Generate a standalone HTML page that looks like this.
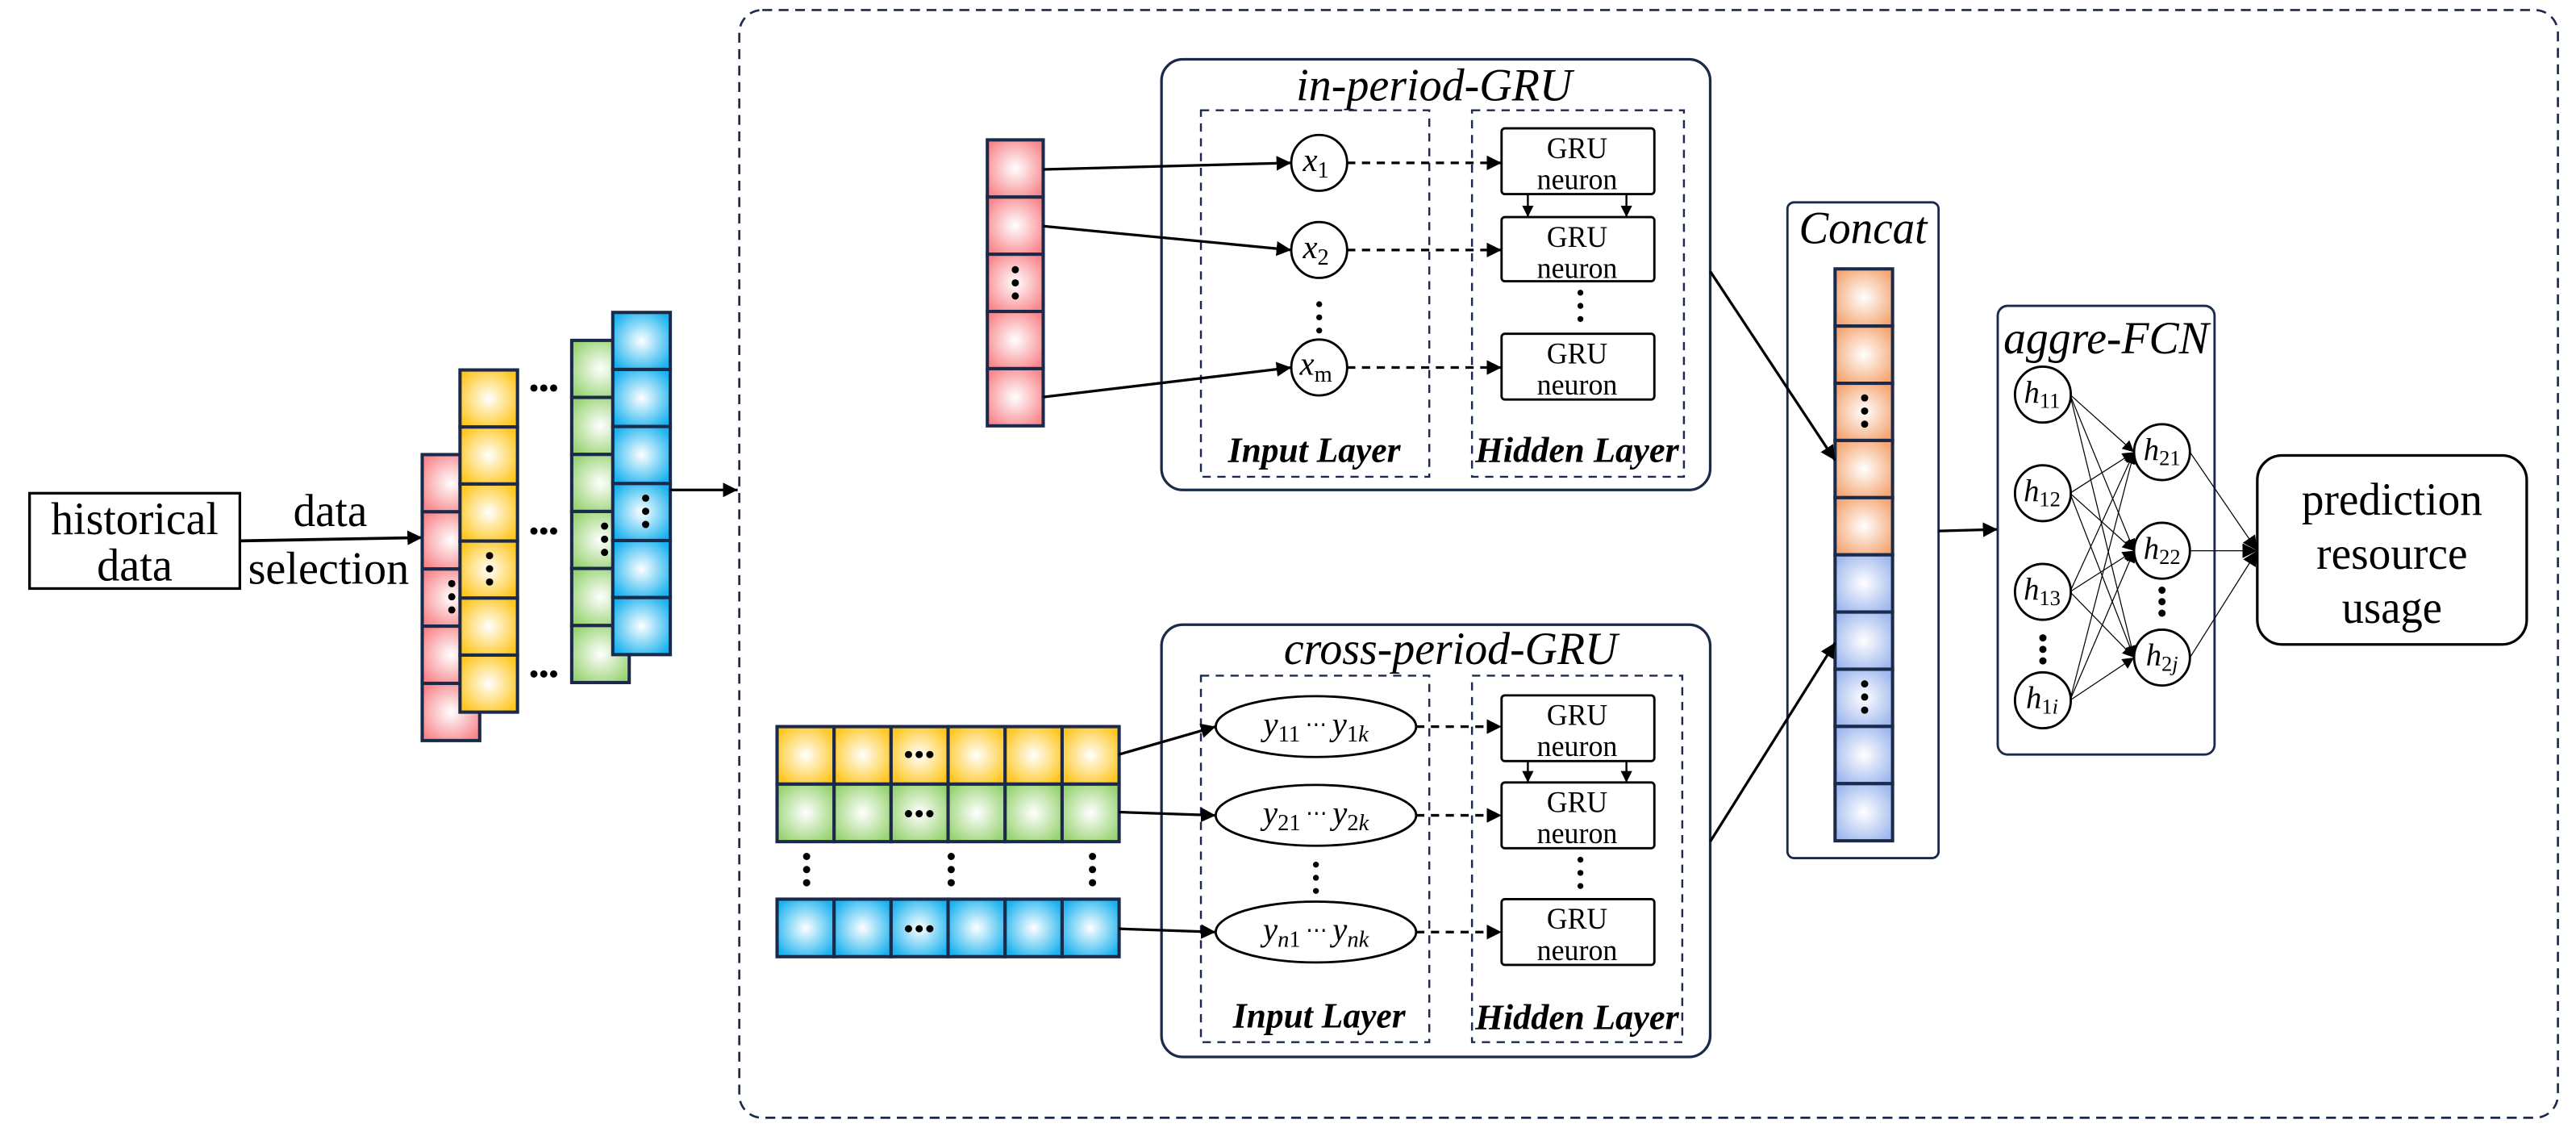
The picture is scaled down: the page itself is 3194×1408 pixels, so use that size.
<!DOCTYPE html>
<html><head><meta charset="utf-8"><style>
html,body{margin:0;padding:0;background:#fff;width:3194px;height:1408px;overflow:hidden}
svg{display:block}
text{font-family:"Liberation Serif","Times New Roman","DejaVu Serif",serif;fill:#000}
</style></head><body>
<svg width="3194" height="1408" viewBox="0 0 1568 691" xmlns="http://www.w3.org/2000/svg">
<defs>
<radialGradient id="gr" cx="50%" cy="50%" r="60%"><stop offset="0" stop-color="#fff"/><stop offset="1" stop-color="#f8878c"/></radialGradient>
<radialGradient id="gy" cx="50%" cy="50%" r="60%"><stop offset="0" stop-color="#fff"/><stop offset="1" stop-color="#ffc61e"/></radialGradient>
<radialGradient id="gg" cx="50%" cy="50%" r="60%"><stop offset="0" stop-color="#fff"/><stop offset="1" stop-color="#98d372"/></radialGradient>
<radialGradient id="gb" cx="50%" cy="50%" r="60%"><stop offset="0" stop-color="#fff"/><stop offset="1" stop-color="#1ab2ef"/></radialGradient>
<radialGradient id="go" cx="50%" cy="50%" r="60%"><stop offset="0" stop-color="#fff"/><stop offset="1" stop-color="#f4a673"/></radialGradient>
<radialGradient id="gl" cx="50%" cy="50%" r="60%"><stop offset="0" stop-color="#fff"/><stop offset="1" stop-color="#9fb8ee"/></radialGradient>
<marker id="a" viewBox="0 0 10 10" refX="10" refY="5" markerWidth="9" markerHeight="9" markerUnits="userSpaceOnUse" orient="auto"><path d="M0,0L10,5L0,10z" fill="#000"/></marker>
<marker id="as" viewBox="0 0 10 10" refX="10" refY="5" markerWidth="7" markerHeight="7" markerUnits="userSpaceOnUse" orient="auto"><path d="M0,0L10,5L0,10z" fill="#000"/></marker>
</defs>

<rect x="450" y="6" width="1107" height="674" rx="14" fill="none" stroke="#1b2a4a" stroke-width="1.3" stroke-dasharray="6,4"/>

<rect x="18" y="300" width="128" height="58" fill="#fff" stroke="#000" stroke-width="1.6"/>
<text x="82" y="325" font-size="28" text-anchor="middle" textLength="102" lengthAdjust="spacingAndGlyphs">historical</text>
<text x="82" y="353" font-size="28" text-anchor="middle" textLength="46" lengthAdjust="spacingAndGlyphs">data</text>
<line x1="146" y1="329" x2="257" y2="327" stroke="#000" stroke-width="1.8" marker-end="url(#a)"/>
<text x="201" y="320" font-size="28" text-anchor="middle" textLength="45" lengthAdjust="spacingAndGlyphs">data</text>
<text x="200" y="355" font-size="28" text-anchor="middle" textLength="98" lengthAdjust="spacingAndGlyphs">selection</text>

<g stroke="#1b2a4a" stroke-width="2">
<g fill="url(#gr)">
<rect x="257" y="276.5" width="35" height="34.8"/><rect x="257" y="311.3" width="35" height="34.8"/><rect x="257" y="346.1" width="35" height="34.8"/><rect x="257" y="380.9" width="35" height="34.8"/><rect x="257" y="415.7" width="35" height="34.8"/>
</g>
<g fill="url(#gy)">
<rect x="280" y="225" width="35" height="34.7"/><rect x="280" y="259.7" width="35" height="34.7"/><rect x="280" y="294.4" width="35" height="34.7"/><rect x="280" y="329.1" width="35" height="34.7"/><rect x="280" y="363.8" width="35" height="34.7"/><rect x="280" y="398.5" width="35" height="34.7"/>
</g>
<g fill="url(#gg)">
<rect x="348" y="207" width="35" height="34.7"/><rect x="348" y="241.7" width="35" height="34.7"/><rect x="348" y="276.4" width="35" height="34.7"/><rect x="348" y="311.1" width="35" height="34.7"/><rect x="348" y="345.8" width="35" height="34.7"/><rect x="348" y="380.5" width="35" height="34.7"/>
</g>
<g fill="url(#gb)">
<rect x="373" y="190" width="35" height="34.7"/><rect x="373" y="224.7" width="35" height="34.7"/><rect x="373" y="259.4" width="35" height="34.7"/><rect x="373" y="294.1" width="35" height="34.7"/><rect x="373" y="328.8" width="35" height="34.7"/><rect x="373" y="363.5" width="35" height="34.7"/>
</g>
<g fill="url(#gr)">
<rect x="601" y="85" width="34" height="34.8"/><rect x="601" y="119.8" width="34" height="34.8"/><rect x="601" y="154.6" width="34" height="34.8"/><rect x="601" y="189.4" width="34" height="34.8"/><rect x="601" y="224.2" width="34" height="34.8"/>
</g>
<g fill="url(#gy)">
<rect x="473" y="442" width="34.7" height="35"/><rect x="507.7" y="442" width="34.7" height="35"/><rect x="542.4" y="442" width="34.7" height="35"/><rect x="577.1" y="442" width="34.7" height="35"/><rect x="611.8" y="442" width="34.7" height="35"/><rect x="646.5" y="442" width="34.7" height="35"/>
</g>
<g fill="url(#gg)">
<rect x="473" y="477" width="34.7" height="35"/><rect x="507.7" y="477" width="34.7" height="35"/><rect x="542.4" y="477" width="34.7" height="35"/><rect x="577.1" y="477" width="34.7" height="35"/><rect x="611.8" y="477" width="34.7" height="35"/><rect x="646.5" y="477" width="34.7" height="35"/>
</g>
<g fill="url(#gb)">
<rect x="473" y="547" width="34.7" height="35"/><rect x="507.7" y="547" width="34.7" height="35"/><rect x="542.4" y="547" width="34.7" height="35"/><rect x="577.1" y="547" width="34.7" height="35"/><rect x="611.8" y="547" width="34.7" height="35"/><rect x="646.5" y="547" width="34.7" height="35"/>
</g>
</g>

<g fill="#000">
<circle cx="275" cy="355" r="2.2"/><circle cx="275" cy="363" r="2.2"/><circle cx="275" cy="371" r="2.2"/>
<circle cx="298" cy="338" r="2.2"/><circle cx="298" cy="346" r="2.2"/><circle cx="298" cy="354" r="2.2"/>
<circle cx="368" cy="320" r="2.2"/><circle cx="368" cy="328" r="2.2"/><circle cx="368" cy="336" r="2.2"/>
<circle cx="393" cy="303" r="2.2"/><circle cx="393" cy="311" r="2.2"/><circle cx="393" cy="319" r="2.2"/>
<circle cx="325" cy="236" r="2.2"/><circle cx="331" cy="236" r="2.2"/><circle cx="337" cy="236" r="2.2"/>
<circle cx="325" cy="323" r="2.2"/><circle cx="331" cy="323" r="2.2"/><circle cx="337" cy="323" r="2.2"/>
<circle cx="325" cy="410" r="2.2"/><circle cx="331" cy="410" r="2.2"/><circle cx="337" cy="410" r="2.2"/>
<circle cx="618" cy="164" r="2.2"/><circle cx="618" cy="172" r="2.2"/><circle cx="618" cy="180" r="2.2"/>
<circle cx="553" cy="459" r="2.2"/><circle cx="559.5" cy="459" r="2.2"/><circle cx="566" cy="459" r="2.2"/>
<circle cx="553" cy="495" r="2.2"/><circle cx="559.5" cy="495" r="2.2"/><circle cx="566" cy="495" r="2.2"/>
<circle cx="553" cy="565" r="2.2"/><circle cx="559.5" cy="565" r="2.2"/><circle cx="566" cy="565" r="2.2"/>
<circle cx="491" cy="521" r="2.2"/><circle cx="491" cy="529" r="2.2"/><circle cx="491" cy="537" r="2.2"/>
<circle cx="579" cy="521" r="2.2"/><circle cx="579" cy="529" r="2.2"/><circle cx="579" cy="537" r="2.2"/>
<circle cx="665" cy="521" r="2.2"/><circle cx="665" cy="529" r="2.2"/><circle cx="665" cy="537" r="2.2"/>
</g>

<line x1="408" y1="298" x2="449" y2="298" stroke="#000" stroke-width="1.6" marker-end="url(#a)"/>

<rect x="707" y="36" width="334" height="262" rx="13" fill="none" stroke="#1b2a4a" stroke-width="1.6"/>
<text x="873" y="61" font-size="28" font-style="italic" text-anchor="middle" textLength="168" lengthAdjust="spacingAndGlyphs">in-period-GRU</text>
<rect x="731" y="67" width="139" height="223" fill="none" stroke="#1b2a4a" stroke-width="1.2" stroke-dasharray="5,4"/>
<rect x="896" y="67" width="129" height="223" fill="none" stroke="#1b2a4a" stroke-width="1.2" stroke-dasharray="5,4"/>
<text x="800" y="281" font-size="22" font-style="italic" font-weight="bold" text-anchor="middle" textLength="105" lengthAdjust="spacingAndGlyphs">Input Layer</text>
<text x="960" y="281" font-size="22" font-style="italic" font-weight="bold" text-anchor="middle" textLength="124" lengthAdjust="spacingAndGlyphs">Hidden Layer</text>
<g fill="#fff" stroke="#000" stroke-width="1.4">
<circle cx="803" cy="99" r="17"/><circle cx="803" cy="152" r="17"/><circle cx="803" cy="223.5" r="17"/>
<rect x="914" y="78" width="93" height="40" rx="2"/><rect x="914" y="132" width="93" height="39" rx="2"/><rect x="914" y="203" width="93" height="40" rx="2"/>
</g>
<g font-style="italic" font-size="20" text-anchor="middle">
<text x="801" y="104">x<tspan font-size="14" font-style="normal" dy="4">1</tspan></text>
<text x="801" y="157">x<tspan font-size="14" font-style="normal" dy="4">2</tspan></text>
<text x="801" y="228">x<tspan font-size="14" font-style="normal" dy="4">m</tspan></text>
</g>
<g fill="#000"><circle cx="803" cy="185" r="1.8"/><circle cx="803" cy="193" r="1.8"/><circle cx="803" cy="201" r="1.8"/>
<circle cx="962" cy="178" r="1.8"/><circle cx="962" cy="186" r="1.8"/><circle cx="962" cy="194" r="1.8"/></g>
<g font-size="18" text-anchor="middle">
<text x="960" y="96" textLength="37" lengthAdjust="spacingAndGlyphs">GRU</text><text x="960" y="115" textLength="49" lengthAdjust="spacingAndGlyphs">neuron</text>
<text x="960" y="150" textLength="37" lengthAdjust="spacingAndGlyphs">GRU</text><text x="960" y="169" textLength="49" lengthAdjust="spacingAndGlyphs">neuron</text>
<text x="960" y="221" textLength="37" lengthAdjust="spacingAndGlyphs">GRU</text><text x="960" y="240" textLength="49" lengthAdjust="spacingAndGlyphs">neuron</text>
</g>
<g stroke="#000" stroke-width="1.6" fill="none">
<line x1="635" y1="103" x2="786" y2="99" marker-end="url(#a)"/>
<line x1="635" y1="137.5" x2="786" y2="152" marker-end="url(#a)"/>
<line x1="635" y1="241.5" x2="786" y2="223.5" marker-end="url(#a)"/>
<g stroke-dasharray="5,4"><line x1="820" y1="99" x2="914" y2="99" marker-end="url(#a)"/><line x1="820" y1="152" x2="914" y2="152" marker-end="url(#a)"/><line x1="820" y1="223.5" x2="914" y2="223.5" marker-end="url(#a)"/></g>
<line x1="930" y1="118" x2="930" y2="132" stroke-width="1.2" marker-end="url(#as)"/>
<line x1="990" y1="118" x2="990" y2="132" stroke-width="1.2" marker-end="url(#as)"/>
</g>

<rect x="707" y="380" width="334" height="263" rx="13" fill="none" stroke="#1b2a4a" stroke-width="1.6"/>
<text x="883" y="404" font-size="28" font-style="italic" text-anchor="middle" textLength="203" lengthAdjust="spacingAndGlyphs">cross-period-GRU</text>
<rect x="731" y="411" width="139" height="223" fill="none" stroke="#1b2a4a" stroke-width="1.2" stroke-dasharray="5,4"/>
<rect x="896" y="411" width="128" height="223" fill="none" stroke="#1b2a4a" stroke-width="1.2" stroke-dasharray="5,4"/>
<text x="803" y="625" font-size="22" font-style="italic" font-weight="bold" text-anchor="middle" textLength="105" lengthAdjust="spacingAndGlyphs">Input Layer</text>
<text x="960" y="626" font-size="22" font-style="italic" font-weight="bold" text-anchor="middle" textLength="124" lengthAdjust="spacingAndGlyphs">Hidden Layer</text>
<g fill="#fff" stroke="#000" stroke-width="1.4">
<ellipse cx="801" cy="442" rx="61" ry="18.5"/><ellipse cx="801" cy="496" rx="61" ry="18.5"/><ellipse cx="801" cy="567" rx="61" ry="18.5"/>
<rect x="914" y="423" width="93" height="40" rx="2"/><rect x="914" y="476" width="93" height="40" rx="2"/><rect x="914" y="547" width="93" height="40" rx="2"/>
</g>
<g font-style="italic" font-size="20" text-anchor="middle">
<text x="801" y="447">y<tspan font-size="14" font-style="normal" dy="4">11</tspan><tspan dy="-6" font-size="13" font-style="normal"> ⋯ </tspan><tspan dy="2">y</tspan><tspan font-size="14" dy="4"><tspan font-style="normal">1</tspan>k</tspan></text>
<text x="801" y="501">y<tspan font-size="14" font-style="normal" dy="4">21</tspan><tspan dy="-6" font-size="13" font-style="normal"> ⋯ </tspan><tspan dy="2">y</tspan><tspan font-size="14" dy="4"><tspan font-style="normal">2</tspan>k</tspan></text>
<text x="801" y="572">y<tspan font-size="14" dy="4">n<tspan font-style="normal">1</tspan></tspan><tspan dy="-6" font-size="13" font-style="normal"> ⋯ </tspan><tspan dy="2">y</tspan><tspan font-size="14" dy="4">nk</tspan></text>
</g>
<g fill="#000"><circle cx="801" cy="526" r="1.8"/><circle cx="801" cy="534" r="1.8"/><circle cx="801" cy="542" r="1.8"/>
<circle cx="962" cy="523" r="1.8"/><circle cx="962" cy="531" r="1.8"/><circle cx="962" cy="539" r="1.8"/></g>
<g font-size="18" text-anchor="middle">
<text x="960" y="441" textLength="37" lengthAdjust="spacingAndGlyphs">GRU</text><text x="960" y="460" textLength="49" lengthAdjust="spacingAndGlyphs">neuron</text>
<text x="960" y="494" textLength="37" lengthAdjust="spacingAndGlyphs">GRU</text><text x="960" y="513" textLength="49" lengthAdjust="spacingAndGlyphs">neuron</text>
<text x="960" y="565" textLength="37" lengthAdjust="spacingAndGlyphs">GRU</text><text x="960" y="584" textLength="49" lengthAdjust="spacingAndGlyphs">neuron</text>
</g>
<g stroke="#000" stroke-width="1.6" fill="none">
<line x1="681" y1="459" x2="740" y2="442" marker-end="url(#a)"/>
<line x1="681" y1="494" x2="740" y2="496" marker-end="url(#a)"/>
<line x1="681" y1="565" x2="740" y2="567" marker-end="url(#a)"/>
<g stroke-dasharray="5,4"><line x1="862" y1="442" x2="914" y2="442" marker-end="url(#a)"/><line x1="862" y1="496" x2="914" y2="496" marker-end="url(#a)"/><line x1="862" y1="567" x2="914" y2="567" marker-end="url(#a)"/></g>
<line x1="930" y1="463" x2="930" y2="476" stroke-width="1.2" marker-end="url(#as)"/>
<line x1="990" y1="463" x2="990" y2="476" stroke-width="1.2" marker-end="url(#as)"/>
</g>

<rect x="1088" y="123" width="92" height="399" rx="4" fill="none" stroke="#1b2a4a" stroke-width="1.4"/>
<text x="1134" y="148" font-size="28" font-style="italic" text-anchor="middle" textLength="78" lengthAdjust="spacingAndGlyphs">Concat</text>
<g stroke="#1b2a4a" stroke-width="2">
<g fill="url(#go)">
<rect x="1117" y="163.5" width="35" height="34.8"/><rect x="1117" y="198.3" width="35" height="34.8"/><rect x="1117" y="233.1" width="35" height="34.8"/><rect x="1117" y="267.9" width="35" height="34.8"/><rect x="1117" y="302.7" width="35" height="34.8"/>
</g>
<g fill="url(#gl)">
<rect x="1117" y="337.5" width="35" height="34.8"/><rect x="1117" y="372.3" width="35" height="34.8"/><rect x="1117" y="407.1" width="35" height="34.8"/><rect x="1117" y="441.9" width="35" height="34.8"/><rect x="1117" y="476.7" width="35" height="34.8"/>
</g></g>
<g fill="#000"><circle cx="1135" cy="242" r="2.2"/><circle cx="1135" cy="250" r="2.2"/><circle cx="1135" cy="258" r="2.2"/>
<circle cx="1135" cy="416" r="2.2"/><circle cx="1135" cy="424" r="2.2"/><circle cx="1135" cy="432" r="2.2"/></g>
<g stroke="#000" stroke-width="1.6">
<line x1="1041" y1="165" x2="1117" y2="280" marker-end="url(#a)"/>
<line x1="1041" y1="512" x2="1117" y2="391" marker-end="url(#a)"/>
<line x1="1180" y1="323" x2="1216" y2="322" marker-end="url(#a)"/>
</g>

<rect x="1216" y="186" width="132" height="273" rx="6" fill="none" stroke="#1b2a4a" stroke-width="1.4"/>
<text x="1282" y="215" font-size="28" font-style="italic" text-anchor="middle" textLength="125" lengthAdjust="spacingAndGlyphs">aggre-FCN</text>
<g stroke="#000" stroke-width="0.6" fill="none">
<line x1="1260" y1="240" x2="1299" y2="275" marker-end="url(#as)"/><line x1="1260" y1="240" x2="1299" y2="335" marker-end="url(#as)"/><line x1="1260" y1="240" x2="1299" y2="400" marker-end="url(#as)"/>
<line x1="1260" y1="300" x2="1299" y2="275" marker-end="url(#as)"/><line x1="1260" y1="300" x2="1299" y2="335" marker-end="url(#as)"/><line x1="1260" y1="300" x2="1299" y2="400" marker-end="url(#as)"/>
<line x1="1260" y1="360" x2="1299" y2="275" marker-end="url(#as)"/><line x1="1260" y1="360" x2="1299" y2="335" marker-end="url(#as)"/><line x1="1260" y1="360" x2="1299" y2="400" marker-end="url(#as)"/>
<line x1="1260" y1="426" x2="1299" y2="275" marker-end="url(#as)"/><line x1="1260" y1="426" x2="1299" y2="335" marker-end="url(#as)"/><line x1="1260" y1="426" x2="1299" y2="400" marker-end="url(#as)"/>
<line x1="1333" y1="275" x2="1374" y2="335" marker-end="url(#a)"/><line x1="1333" y1="335" x2="1374" y2="335" marker-end="url(#a)"/><line x1="1333" y1="400" x2="1374" y2="335" marker-end="url(#a)"/>
</g>
<g fill="#fff" stroke="#000" stroke-width="1.4">
<circle cx="1243.5" cy="240" r="17"/><circle cx="1243.5" cy="300" r="17"/><circle cx="1243.5" cy="360" r="17"/><circle cx="1243.5" cy="426" r="17"/>
<circle cx="1316" cy="275" r="17"/><circle cx="1316" cy="335" r="17"/><circle cx="1316" cy="400" r="17"/>
</g>
<g font-size="19" font-style="italic" text-anchor="middle">
<text x="1243" y="245">h<tspan font-size="13" font-style="normal" dy="3">11</tspan></text>
<text x="1243" y="305">h<tspan font-size="13" font-style="normal" dy="3">12</tspan></text>
<text x="1243" y="365">h<tspan font-size="13" font-style="normal" dy="3">13</tspan></text>
<text x="1243" y="431">h<tspan font-size="13" dy="3"><tspan font-style="normal">1</tspan>i</tspan></text>
<text x="1316" y="280">h<tspan font-size="13" font-style="normal" dy="3">21</tspan></text>
<text x="1316" y="340">h<tspan font-size="13" font-style="normal" dy="3">22</tspan></text>
<text x="1316" y="405">h<tspan font-size="13" dy="3"><tspan font-style="normal">2</tspan>j</tspan></text>
</g>
<g fill="#000"><circle cx="1243.5" cy="388" r="2.2"/><circle cx="1243.5" cy="395" r="2.2"/><circle cx="1243.5" cy="402" r="2.2"/>
<circle cx="1316" cy="359" r="2.2"/><circle cx="1316" cy="366" r="2.2"/><circle cx="1316" cy="373" r="2.2"/></g>

<rect x="1374" y="277" width="164" height="115" rx="15" fill="#fff" stroke="#000" stroke-width="1.6"/>
<text x="1456" y="313" font-size="28" text-anchor="middle" textLength="110" lengthAdjust="spacingAndGlyphs">prediction</text>
<text x="1456" y="346" font-size="28" text-anchor="middle" textLength="92" lengthAdjust="spacingAndGlyphs">resource</text>
<text x="1456" y="379" font-size="28" text-anchor="middle" textLength="61" lengthAdjust="spacingAndGlyphs">usage</text>
</svg>
</body></html>
